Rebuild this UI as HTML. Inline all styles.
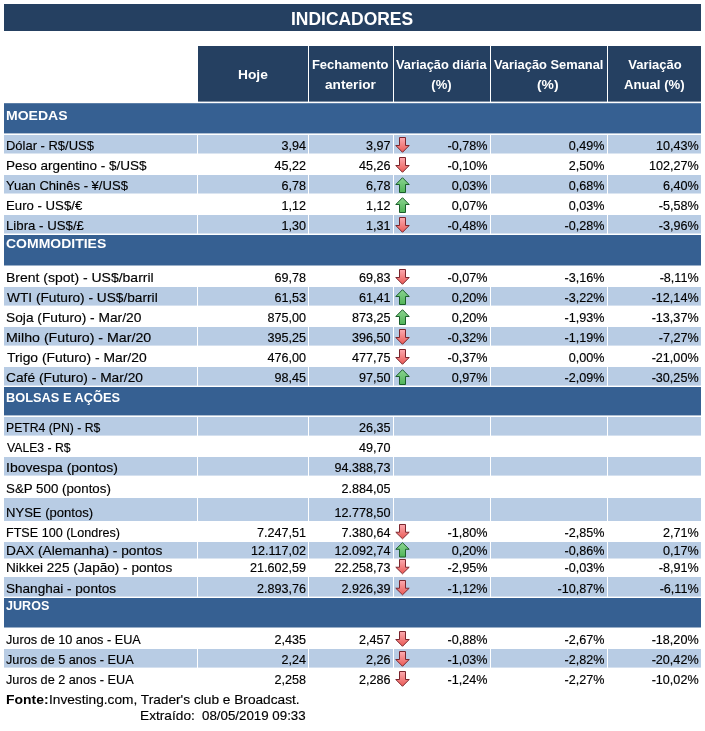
<!DOCTYPE html>
<html lang="pt-BR"><head><meta charset="utf-8"><title>Indicadores</title>
<style>
html,body{margin:0;padding:0;background:#fff}
body{width:705px;height:731px;position:relative;overflow:hidden;font-family:"Liberation Sans",sans-serif;color:#000}
.r{position:absolute}
.x{position:absolute;white-space:nowrap;line-height:1;transform-origin:0 0}
.t{font-size:12.9px;-webkit-text-stroke:0.15px #000} .n{font-size:12.6px;-webkit-text-stroke:0.15px #000} .b{font-size:12.9px;font-weight:bold}
.h{font-size:13px;font-weight:bold;color:#fff} .s{font-size:13px;font-weight:bold;color:#fff}
.title{font-size:18px;font-weight:bold;color:#fff}
.ar{position:absolute;overflow:visible}
</style></head><body>
<svg width="0" height="0" style="position:absolute"><defs>
<linearGradient id="gr" x1="0" y1="0" x2="0" y2="1"><stop offset="0" stop-color="#fbaab0"/><stop offset="1" stop-color="#ea5a55"/></linearGradient>
<linearGradient id="gg" x1="0" y1="0" x2="0" y2="1"><stop offset="0" stop-color="#8bd490"/><stop offset="1" stop-color="#50b458"/></linearGradient>
</defs></svg>
<div class="r" style="left:4px;top:4px;width:697px;height:27px;background:#254061"></div>
<div class="r" style="left:198px;top:46px;width:110px;height:55px;background:#254061"></div>
<div class="r" style="left:198px;top:101px;width:110px;height:1px;background:rgba(37,64,97,0.60)"></div>
<div class="r" style="left:309px;top:46px;width:84px;height:55px;background:#254061"></div>
<div class="r" style="left:309px;top:101px;width:84px;height:1px;background:rgba(37,64,97,0.60)"></div>
<div class="r" style="left:394px;top:46px;width:96px;height:55px;background:#254061"></div>
<div class="r" style="left:394px;top:101px;width:96px;height:1px;background:rgba(37,64,97,0.60)"></div>
<div class="r" style="left:491px;top:46px;width:116px;height:55px;background:#254061"></div>
<div class="r" style="left:491px;top:101px;width:116px;height:1px;background:rgba(37,64,97,0.60)"></div>
<div class="r" style="left:608px;top:46px;width:93px;height:55px;background:#254061"></div>
<div class="r" style="left:608px;top:101px;width:93px;height:1px;background:rgba(37,64,97,0.60)"></div>
<div class="r" style="left:4px;top:104px;width:697px;height:29px;background:#366092"></div>
<div class="r" style="left:4px;top:133px;width:697px;height:1px;background:rgba(54,96,146,0.40)"></div>
<div class="r" style="left:4px;top:103px;width:697px;height:1px;background:rgba(54,96,146,0.80)"></div>
<div class="r" style="left:4px;top:235px;width:697px;height:30px;background:#366092"></div>
<div class="r" style="left:4px;top:265px;width:697px;height:1px;background:rgba(54,96,146,0.50)"></div>
<div class="r" style="left:4px;top:387px;width:697px;height:28px;background:#366092"></div>
<div class="r" style="left:4px;top:415px;width:697px;height:1px;background:rgba(54,96,146,0.40)"></div>
<div class="r" style="left:4px;top:598px;width:697px;height:29px;background:#366092"></div>
<div class="r" style="left:4px;top:627px;width:697px;height:1px;background:rgba(54,96,146,0.50)"></div>
<div class="r" style="left:4px;top:135px;width:193px;height:18px;background:#b8cce4"></div>
<div class="r" style="left:4px;top:153px;width:193px;height:1px;background:rgba(184,204,228,0.50)"></div>
<div class="r" style="left:198px;top:135px;width:110px;height:18px;background:#b8cce4"></div>
<div class="r" style="left:198px;top:153px;width:110px;height:1px;background:rgba(184,204,228,0.50)"></div>
<div class="r" style="left:309px;top:135px;width:84px;height:18px;background:#b8cce4"></div>
<div class="r" style="left:309px;top:153px;width:84px;height:1px;background:rgba(184,204,228,0.50)"></div>
<div class="r" style="left:394px;top:135px;width:96px;height:18px;background:#b8cce4"></div>
<div class="r" style="left:394px;top:153px;width:96px;height:1px;background:rgba(184,204,228,0.50)"></div>
<div class="r" style="left:491px;top:135px;width:116px;height:18px;background:#b8cce4"></div>
<div class="r" style="left:491px;top:153px;width:116px;height:1px;background:rgba(184,204,228,0.50)"></div>
<div class="r" style="left:608px;top:135px;width:93px;height:18px;background:#b8cce4"></div>
<div class="r" style="left:608px;top:153px;width:93px;height:1px;background:rgba(184,204,228,0.50)"></div>
<div class="r" style="left:4px;top:175px;width:193px;height:18px;background:#b8cce4"></div>
<div class="r" style="left:4px;top:193px;width:193px;height:1px;background:rgba(184,204,228,0.50)"></div>
<div class="r" style="left:198px;top:175px;width:110px;height:18px;background:#b8cce4"></div>
<div class="r" style="left:198px;top:193px;width:110px;height:1px;background:rgba(184,204,228,0.50)"></div>
<div class="r" style="left:309px;top:175px;width:84px;height:18px;background:#b8cce4"></div>
<div class="r" style="left:309px;top:193px;width:84px;height:1px;background:rgba(184,204,228,0.50)"></div>
<div class="r" style="left:394px;top:175px;width:96px;height:18px;background:#b8cce4"></div>
<div class="r" style="left:394px;top:193px;width:96px;height:1px;background:rgba(184,204,228,0.50)"></div>
<div class="r" style="left:491px;top:175px;width:116px;height:18px;background:#b8cce4"></div>
<div class="r" style="left:491px;top:193px;width:116px;height:1px;background:rgba(184,204,228,0.50)"></div>
<div class="r" style="left:608px;top:175px;width:93px;height:18px;background:#b8cce4"></div>
<div class="r" style="left:608px;top:193px;width:93px;height:1px;background:rgba(184,204,228,0.50)"></div>
<div class="r" style="left:4px;top:215px;width:193px;height:18px;background:#b8cce4"></div>
<div class="r" style="left:4px;top:233px;width:193px;height:1px;background:rgba(184,204,228,0.50)"></div>
<div class="r" style="left:198px;top:215px;width:110px;height:18px;background:#b8cce4"></div>
<div class="r" style="left:198px;top:233px;width:110px;height:1px;background:rgba(184,204,228,0.50)"></div>
<div class="r" style="left:309px;top:215px;width:84px;height:18px;background:#b8cce4"></div>
<div class="r" style="left:309px;top:233px;width:84px;height:1px;background:rgba(184,204,228,0.50)"></div>
<div class="r" style="left:394px;top:215px;width:96px;height:18px;background:#b8cce4"></div>
<div class="r" style="left:394px;top:233px;width:96px;height:1px;background:rgba(184,204,228,0.50)"></div>
<div class="r" style="left:491px;top:215px;width:116px;height:18px;background:#b8cce4"></div>
<div class="r" style="left:491px;top:233px;width:116px;height:1px;background:rgba(184,204,228,0.50)"></div>
<div class="r" style="left:608px;top:215px;width:93px;height:18px;background:#b8cce4"></div>
<div class="r" style="left:608px;top:233px;width:93px;height:1px;background:rgba(184,204,228,0.50)"></div>
<div class="r" style="left:4px;top:287px;width:193px;height:18px;background:#b8cce4"></div>
<div class="r" style="left:4px;top:305px;width:193px;height:1px;background:rgba(184,204,228,0.60)"></div>
<div class="r" style="left:198px;top:287px;width:110px;height:18px;background:#b8cce4"></div>
<div class="r" style="left:198px;top:305px;width:110px;height:1px;background:rgba(184,204,228,0.60)"></div>
<div class="r" style="left:309px;top:287px;width:84px;height:18px;background:#b8cce4"></div>
<div class="r" style="left:309px;top:305px;width:84px;height:1px;background:rgba(184,204,228,0.60)"></div>
<div class="r" style="left:394px;top:287px;width:96px;height:18px;background:#b8cce4"></div>
<div class="r" style="left:394px;top:305px;width:96px;height:1px;background:rgba(184,204,228,0.60)"></div>
<div class="r" style="left:491px;top:287px;width:116px;height:18px;background:#b8cce4"></div>
<div class="r" style="left:491px;top:305px;width:116px;height:1px;background:rgba(184,204,228,0.60)"></div>
<div class="r" style="left:608px;top:287px;width:93px;height:18px;background:#b8cce4"></div>
<div class="r" style="left:608px;top:305px;width:93px;height:1px;background:rgba(184,204,228,0.60)"></div>
<div class="r" style="left:4px;top:327px;width:193px;height:18px;background:#b8cce4"></div>
<div class="r" style="left:4px;top:345px;width:193px;height:1px;background:rgba(184,204,228,0.60)"></div>
<div class="r" style="left:198px;top:327px;width:110px;height:18px;background:#b8cce4"></div>
<div class="r" style="left:198px;top:345px;width:110px;height:1px;background:rgba(184,204,228,0.60)"></div>
<div class="r" style="left:309px;top:327px;width:84px;height:18px;background:#b8cce4"></div>
<div class="r" style="left:309px;top:345px;width:84px;height:1px;background:rgba(184,204,228,0.60)"></div>
<div class="r" style="left:394px;top:327px;width:96px;height:18px;background:#b8cce4"></div>
<div class="r" style="left:394px;top:345px;width:96px;height:1px;background:rgba(184,204,228,0.60)"></div>
<div class="r" style="left:491px;top:327px;width:116px;height:18px;background:#b8cce4"></div>
<div class="r" style="left:491px;top:345px;width:116px;height:1px;background:rgba(184,204,228,0.60)"></div>
<div class="r" style="left:608px;top:327px;width:93px;height:18px;background:#b8cce4"></div>
<div class="r" style="left:608px;top:345px;width:93px;height:1px;background:rgba(184,204,228,0.60)"></div>
<div class="r" style="left:4px;top:367px;width:193px;height:18px;background:#b8cce4"></div>
<div class="r" style="left:4px;top:385px;width:193px;height:1px;background:rgba(184,204,228,0.60)"></div>
<div class="r" style="left:198px;top:367px;width:110px;height:18px;background:#b8cce4"></div>
<div class="r" style="left:198px;top:385px;width:110px;height:1px;background:rgba(184,204,228,0.60)"></div>
<div class="r" style="left:309px;top:367px;width:84px;height:18px;background:#b8cce4"></div>
<div class="r" style="left:309px;top:385px;width:84px;height:1px;background:rgba(184,204,228,0.60)"></div>
<div class="r" style="left:394px;top:367px;width:96px;height:18px;background:#b8cce4"></div>
<div class="r" style="left:394px;top:385px;width:96px;height:1px;background:rgba(184,204,228,0.60)"></div>
<div class="r" style="left:491px;top:367px;width:116px;height:18px;background:#b8cce4"></div>
<div class="r" style="left:491px;top:385px;width:116px;height:1px;background:rgba(184,204,228,0.60)"></div>
<div class="r" style="left:608px;top:367px;width:93px;height:18px;background:#b8cce4"></div>
<div class="r" style="left:608px;top:385px;width:93px;height:1px;background:rgba(184,204,228,0.60)"></div>
<div class="r" style="left:4px;top:417px;width:193px;height:18px;background:#b8cce4"></div>
<div class="r" style="left:4px;top:435px;width:193px;height:1px;background:rgba(184,204,228,0.60)"></div>
<div class="r" style="left:198px;top:417px;width:110px;height:18px;background:#b8cce4"></div>
<div class="r" style="left:198px;top:435px;width:110px;height:1px;background:rgba(184,204,228,0.60)"></div>
<div class="r" style="left:309px;top:417px;width:84px;height:18px;background:#b8cce4"></div>
<div class="r" style="left:309px;top:435px;width:84px;height:1px;background:rgba(184,204,228,0.60)"></div>
<div class="r" style="left:394px;top:417px;width:96px;height:18px;background:#b8cce4"></div>
<div class="r" style="left:394px;top:435px;width:96px;height:1px;background:rgba(184,204,228,0.60)"></div>
<div class="r" style="left:491px;top:417px;width:116px;height:18px;background:#b8cce4"></div>
<div class="r" style="left:491px;top:435px;width:116px;height:1px;background:rgba(184,204,228,0.60)"></div>
<div class="r" style="left:608px;top:417px;width:93px;height:18px;background:#b8cce4"></div>
<div class="r" style="left:608px;top:435px;width:93px;height:1px;background:rgba(184,204,228,0.60)"></div>
<div class="r" style="left:4px;top:457px;width:193px;height:18px;background:#b8cce4"></div>
<div class="r" style="left:4px;top:475px;width:193px;height:1px;background:rgba(184,204,228,0.60)"></div>
<div class="r" style="left:198px;top:457px;width:110px;height:18px;background:#b8cce4"></div>
<div class="r" style="left:198px;top:475px;width:110px;height:1px;background:rgba(184,204,228,0.60)"></div>
<div class="r" style="left:309px;top:457px;width:84px;height:18px;background:#b8cce4"></div>
<div class="r" style="left:309px;top:475px;width:84px;height:1px;background:rgba(184,204,228,0.60)"></div>
<div class="r" style="left:394px;top:457px;width:96px;height:18px;background:#b8cce4"></div>
<div class="r" style="left:394px;top:475px;width:96px;height:1px;background:rgba(184,204,228,0.60)"></div>
<div class="r" style="left:491px;top:457px;width:116px;height:18px;background:#b8cce4"></div>
<div class="r" style="left:491px;top:475px;width:116px;height:1px;background:rgba(184,204,228,0.60)"></div>
<div class="r" style="left:608px;top:457px;width:93px;height:18px;background:#b8cce4"></div>
<div class="r" style="left:608px;top:475px;width:93px;height:1px;background:rgba(184,204,228,0.60)"></div>
<div class="r" style="left:4px;top:498px;width:193px;height:23px;background:#b8cce4"></div>
<div class="r" style="left:198px;top:498px;width:110px;height:23px;background:#b8cce4"></div>
<div class="r" style="left:309px;top:498px;width:84px;height:23px;background:#b8cce4"></div>
<div class="r" style="left:394px;top:498px;width:96px;height:23px;background:#b8cce4"></div>
<div class="r" style="left:491px;top:498px;width:116px;height:23px;background:#b8cce4"></div>
<div class="r" style="left:608px;top:498px;width:93px;height:23px;background:#b8cce4"></div>
<div class="r" style="left:4px;top:542px;width:193px;height:16px;background:#b8cce4"></div>
<div class="r" style="left:4px;top:558px;width:193px;height:1px;background:rgba(184,204,228,0.50)"></div>
<div class="r" style="left:198px;top:542px;width:110px;height:16px;background:#b8cce4"></div>
<div class="r" style="left:198px;top:558px;width:110px;height:1px;background:rgba(184,204,228,0.50)"></div>
<div class="r" style="left:309px;top:542px;width:84px;height:16px;background:#b8cce4"></div>
<div class="r" style="left:309px;top:558px;width:84px;height:1px;background:rgba(184,204,228,0.50)"></div>
<div class="r" style="left:394px;top:542px;width:96px;height:16px;background:#b8cce4"></div>
<div class="r" style="left:394px;top:558px;width:96px;height:1px;background:rgba(184,204,228,0.50)"></div>
<div class="r" style="left:491px;top:542px;width:116px;height:16px;background:#b8cce4"></div>
<div class="r" style="left:491px;top:558px;width:116px;height:1px;background:rgba(184,204,228,0.50)"></div>
<div class="r" style="left:608px;top:542px;width:93px;height:16px;background:#b8cce4"></div>
<div class="r" style="left:608px;top:558px;width:93px;height:1px;background:rgba(184,204,228,0.50)"></div>
<div class="r" style="left:4px;top:577px;width:193px;height:19px;background:#b8cce4"></div>
<div class="r" style="left:4px;top:596px;width:193px;height:1px;background:rgba(184,204,228,0.60)"></div>
<div class="r" style="left:198px;top:577px;width:110px;height:19px;background:#b8cce4"></div>
<div class="r" style="left:198px;top:596px;width:110px;height:1px;background:rgba(184,204,228,0.60)"></div>
<div class="r" style="left:309px;top:577px;width:84px;height:19px;background:#b8cce4"></div>
<div class="r" style="left:309px;top:596px;width:84px;height:1px;background:rgba(184,204,228,0.60)"></div>
<div class="r" style="left:394px;top:577px;width:96px;height:19px;background:#b8cce4"></div>
<div class="r" style="left:394px;top:596px;width:96px;height:1px;background:rgba(184,204,228,0.60)"></div>
<div class="r" style="left:491px;top:577px;width:116px;height:19px;background:#b8cce4"></div>
<div class="r" style="left:491px;top:596px;width:116px;height:1px;background:rgba(184,204,228,0.60)"></div>
<div class="r" style="left:608px;top:577px;width:93px;height:19px;background:#b8cce4"></div>
<div class="r" style="left:608px;top:596px;width:93px;height:1px;background:rgba(184,204,228,0.60)"></div>
<div class="r" style="left:4px;top:649px;width:193px;height:18px;background:#b8cce4"></div>
<div class="r" style="left:4px;top:667px;width:193px;height:1px;background:rgba(184,204,228,0.60)"></div>
<div class="r" style="left:198px;top:649px;width:110px;height:18px;background:#b8cce4"></div>
<div class="r" style="left:198px;top:667px;width:110px;height:1px;background:rgba(184,204,228,0.60)"></div>
<div class="r" style="left:309px;top:649px;width:84px;height:18px;background:#b8cce4"></div>
<div class="r" style="left:309px;top:667px;width:84px;height:1px;background:rgba(184,204,228,0.60)"></div>
<div class="r" style="left:394px;top:649px;width:96px;height:18px;background:#b8cce4"></div>
<div class="r" style="left:394px;top:667px;width:96px;height:1px;background:rgba(184,204,228,0.60)"></div>
<div class="r" style="left:491px;top:649px;width:116px;height:18px;background:#b8cce4"></div>
<div class="r" style="left:491px;top:667px;width:116px;height:1px;background:rgba(184,204,228,0.60)"></div>
<div class="r" style="left:608px;top:649px;width:93px;height:18px;background:#b8cce4"></div>
<div class="r" style="left:608px;top:667px;width:93px;height:1px;background:rgba(184,204,228,0.60)"></div>
<div class="x title" style="left:291.11px;top:10px;transform:scaleX(0.9693)">INDICADORES</div>
<div class="x h" style="left:238.37px;top:68px;transform:scaleX(1.0594)">Hoje</div>
<div class="x h" style="left:311.93px;top:58px">Fechamento</div>
<div class="x h" style="left:325.48px;top:78px;transform:scaleX(1.0502)">anterior</div>
<div class="x h" style="left:396.21px;top:58px;transform:scaleX(0.9862)">Variação diária</div>
<div class="x h" style="left:431.32px;top:78px">(%)</div>
<div class="x h" style="left:494.11px;top:58px;transform:scaleX(0.9893)">Variação Semanal</div>
<div class="x h" style="left:537.48px;top:78px;transform:scaleX(1.0654)">(%)</div>
<div class="x h" style="left:628.21px;top:58px">Variação</div>
<div class="x h" style="left:623.97px;top:78px;transform:scaleX(1.0115)">Anual (%)</div>
<div class="x s" style="left:6.16px;top:109px;transform:scaleX(1.0790)">MOEDAS</div>
<div class="x s" style="left:6.28px;top:237px;transform:scaleX(1.0762)">COMMODITIES</div>
<div class="x s" style="left:6.04px;top:391px;transform:scaleX(0.9846)">BOLSAS E AÇÕES</div>
<div class="x s" style="left:6.39px;top:599px;transform:scaleX(0.9665)">JUROS</div>
<div class="x t" style="left:5.83px;top:140px;transform:scaleX(1.0054)">Dólar - R$/US$</div>
<div class="x n" style="left:281.48px;top:140px">3,94</div>
<div class="x n" style="left:366.08px;top:140px">3,97</div>
<div class="x n" style="left:447.49px;top:140px">-0,78%</div>
<div class="x n" style="left:568.68px;top:140px">0,49%</div>
<div class="x n" style="left:655.88px;top:140px">10,43%</div>
<div class="x t" style="left:5.78px;top:160px;transform:scaleX(1.0494)">Peso argentino - $/US$</div>
<div class="x n" style="left:274.48px;top:160px">45,22</div>
<div class="x n" style="left:359.08px;top:160px">45,26</div>
<div class="x n" style="left:447.49px;top:160px">-0,10%</div>
<div class="x n" style="left:568.68px;top:160px">2,50%</div>
<div class="x n" style="left:648.88px;top:160px">102,27%</div>
<div class="x t" style="left:6.40px;top:180px;transform:scaleX(1.0125)">Yuan Chinês - ¥/US$</div>
<div class="x n" style="left:281.48px;top:180px">6,78</div>
<div class="x n" style="left:366.08px;top:180px">6,78</div>
<div class="x n" style="left:451.68px;top:180px">0,03%</div>
<div class="x n" style="left:568.68px;top:180px">0,68%</div>
<div class="x n" style="left:662.88px;top:180px">6,40%</div>
<div class="x t" style="left:5.81px;top:200px;transform:scaleX(1.0234)">Euro - US$/€</div>
<div class="x n" style="left:281.48px;top:200px">1,12</div>
<div class="x n" style="left:366.08px;top:200px">1,12</div>
<div class="x n" style="left:451.68px;top:200px">0,07%</div>
<div class="x n" style="left:568.68px;top:200px">0,03%</div>
<div class="x n" style="left:658.69px;top:200px">-5,58%</div>
<div class="x t" style="left:5.81px;top:220px;transform:scaleX(1.0262)">Libra - US$/£</div>
<div class="x n" style="left:281.48px;top:220px">1,30</div>
<div class="x n" style="left:366.08px;top:220px">1,31</div>
<div class="x n" style="left:447.49px;top:220px">-0,48%</div>
<div class="x n" style="left:564.49px;top:220px">-0,28%</div>
<div class="x n" style="left:658.69px;top:220px">-3,96%</div>
<div class="x t" style="left:5.74px;top:272px;transform:scaleX(1.0849)">Brent (spot) - US$/barril</div>
<div class="x n" style="left:274.48px;top:272px">69,78</div>
<div class="x n" style="left:359.08px;top:272px">69,83</div>
<div class="x n" style="left:447.49px;top:272px">-0,07%</div>
<div class="x n" style="left:564.49px;top:272px">-3,16%</div>
<div class="x n" style="left:659.63px;top:272px">-8,11%</div>
<div class="x t" style="left:6.70px;top:292px;transform:scaleX(1.0626)">WTI (Futuro) - US$/barril</div>
<div class="x n" style="left:274.48px;top:292px">61,53</div>
<div class="x n" style="left:359.08px;top:292px">61,41</div>
<div class="x n" style="left:451.68px;top:292px">0,20%</div>
<div class="x n" style="left:564.49px;top:292px">-3,22%</div>
<div class="x n" style="left:651.68px;top:292px">-12,14%</div>
<div class="x t" style="left:6.05px;top:312px;transform:scaleX(1.0670)">Soja (Futuro) - Mar/20</div>
<div class="x n" style="left:267.47px;top:312px">875,00</div>
<div class="x n" style="left:352.07px;top:312px">873,25</div>
<div class="x n" style="left:451.68px;top:312px">0,20%</div>
<div class="x n" style="left:564.49px;top:312px">-1,93%</div>
<div class="x n" style="left:651.68px;top:312px">-13,37%</div>
<div class="x t" style="left:5.72px;top:332px;transform:scaleX(1.1019)">Milho (Futuro) - Mar/20</div>
<div class="x n" style="left:267.47px;top:332px">395,25</div>
<div class="x n" style="left:352.07px;top:332px">396,50</div>
<div class="x n" style="left:447.49px;top:332px">-0,32%</div>
<div class="x n" style="left:564.49px;top:332px">-1,19%</div>
<div class="x n" style="left:658.69px;top:332px">-7,27%</div>
<div class="x t" style="left:6.62px;top:352px;transform:scaleX(1.0750)">Trigo (Futuro) - Mar/20</div>
<div class="x n" style="left:267.47px;top:352px">476,00</div>
<div class="x n" style="left:352.07px;top:352px">477,75</div>
<div class="x n" style="left:447.49px;top:352px">-0,37%</div>
<div class="x n" style="left:568.68px;top:352px">0,00%</div>
<div class="x n" style="left:651.68px;top:352px">-21,00%</div>
<div class="x t" style="left:6.27px;top:372px;transform:scaleX(1.0685)">Café (Futuro) - Mar/20</div>
<div class="x n" style="left:274.48px;top:372px">98,45</div>
<div class="x n" style="left:359.08px;top:372px">97,50</div>
<div class="x n" style="left:451.68px;top:372px">0,97%</div>
<div class="x n" style="left:564.49px;top:372px">-2,09%</div>
<div class="x n" style="left:651.68px;top:372px">-30,25%</div>
<div class="x t" style="left:5.89px;top:422px;transform:scaleX(0.9467)">PETR4 (PN) - R$</div>
<div class="x n" style="left:359.08px;top:422px">26,35</div>
<div class="x t" style="left:6.68px;top:442px;transform:scaleX(0.9476)">VALE3 - R$</div>
<div class="x n" style="left:359.08px;top:442px">49,70</div>
<div class="x t" style="left:5.62px;top:462px;transform:scaleX(1.0853)">Ibovespa (pontos)</div>
<div class="x n" style="left:334.57px;top:462px">94.388,73</div>
<div class="x t" style="left:6.07px;top:483px;transform:scaleX(1.0326)">S&amp;P 500 (pontos)</div>
<div class="x n" style="left:341.57px;top:483px">2.884,05</div>
<div class="x t" style="left:5.82px;top:507px;transform:scaleX(1.0124)">NYSE (pontos)</div>
<div class="x n" style="left:334.57px;top:507px">12.778,50</div>
<div class="x t" style="left:5.86px;top:527px;transform:scaleX(0.9760)">FTSE 100 (Londres)</div>
<div class="x n" style="left:256.97px;top:527px">7.247,51</div>
<div class="x n" style="left:341.57px;top:527px">7.380,64</div>
<div class="x n" style="left:447.49px;top:527px">-1,80%</div>
<div class="x n" style="left:564.49px;top:527px">-2,85%</div>
<div class="x n" style="left:662.88px;top:527px">2,71%</div>
<div class="x t" style="left:5.76px;top:545px;transform:scaleX(1.0645)">DAX (Alemanha) - pontos</div>
<div class="x n" style="left:250.91px;top:545px">12.117,02</div>
<div class="x n" style="left:334.57px;top:545px">12.092,74</div>
<div class="x n" style="left:451.68px;top:545px">0,20%</div>
<div class="x n" style="left:564.49px;top:545px">-0,86%</div>
<div class="x n" style="left:662.88px;top:545px">0,17%</div>
<div class="x t" style="left:5.78px;top:562px;transform:scaleX(1.0545)">Nikkei 225 (Japão) - pontos</div>
<div class="x n" style="left:249.97px;top:562px">21.602,59</div>
<div class="x n" style="left:334.57px;top:562px">22.258,73</div>
<div class="x n" style="left:447.49px;top:562px">-2,95%</div>
<div class="x n" style="left:564.49px;top:562px">-0,03%</div>
<div class="x n" style="left:658.69px;top:562px">-8,91%</div>
<div class="x t" style="left:6.06px;top:583px;transform:scaleX(1.0516)">Shanghai - pontos</div>
<div class="x n" style="left:256.97px;top:583px">2.893,76</div>
<div class="x n" style="left:341.57px;top:583px">2.926,39</div>
<div class="x n" style="left:447.49px;top:583px">-1,12%</div>
<div class="x n" style="left:557.48px;top:583px">-10,87%</div>
<div class="x n" style="left:659.63px;top:583px">-6,11%</div>
<div class="x t" style="left:6.39px;top:634px;transform:scaleX(0.9848)">Juros de 10 anos - EUA</div>
<div class="x n" style="left:274.48px;top:634px">2,435</div>
<div class="x n" style="left:359.08px;top:634px">2,457</div>
<div class="x n" style="left:447.49px;top:634px">-0,88%</div>
<div class="x n" style="left:564.49px;top:634px">-2,67%</div>
<div class="x n" style="left:651.68px;top:634px">-18,20%</div>
<div class="x t" style="left:6.39px;top:654px;transform:scaleX(0.9847)">Juros de 5 anos - EUA</div>
<div class="x n" style="left:281.48px;top:654px">2,24</div>
<div class="x n" style="left:366.08px;top:654px">2,26</div>
<div class="x n" style="left:447.49px;top:654px">-1,03%</div>
<div class="x n" style="left:564.49px;top:654px">-2,82%</div>
<div class="x n" style="left:651.68px;top:654px">-20,42%</div>
<div class="x t" style="left:6.39px;top:674px;transform:scaleX(0.9847)">Juros de 2 anos - EUA</div>
<div class="x n" style="left:274.48px;top:674px">2,258</div>
<div class="x n" style="left:359.08px;top:674px">2,286</div>
<div class="x n" style="left:447.49px;top:674px">-1,24%</div>
<div class="x n" style="left:564.49px;top:674px">-2,27%</div>
<div class="x n" style="left:651.68px;top:674px">-10,02%</div>
<div class="x b" style="left:5.87px;top:694px;transform:scaleX(1.0810)">Fonte:</div>
<div class="x t" style="left:48.55px;top:694px;transform:scaleX(1.0619)">Investing.com, Trader's club e Broadcast.</div>
<div class="x t" style="left:140.37px;top:710px;transform:scaleX(1.0622)">Extraído:</div>
<div class="x n" style="left:202.33px;top:710px;transform:scaleX(1.0573)">08/05/2019 09:33</div>
<svg class="ar" style="left:395px;top:137px" width="15" height="16" viewBox="0 0 15 16" preserveAspectRatio="none"><path d="M4.5 0.5 H10.5 V8.5 H14.2 L7.5 15.3 L0.8 8.5 H4.5 Z" fill="url(#gr)" stroke="#7a242b" stroke-width="1"/></svg>
<svg class="ar" style="left:395px;top:157px" width="15" height="16" viewBox="0 0 15 16" preserveAspectRatio="none"><path d="M4.5 0.5 H10.5 V8.5 H14.2 L7.5 15.3 L0.8 8.5 H4.5 Z" fill="url(#gr)" stroke="#7a242b" stroke-width="1"/></svg>
<svg class="ar" style="left:395px;top:177px" width="15" height="16" viewBox="0 0 15 16" preserveAspectRatio="none"><path d="M7.5 0.7 L14.2 7.5 H10.5 V15.5 H4.5 V7.5 H0.8 Z" fill="url(#gg)" stroke="#1a5e2a" stroke-width="1"/></svg>
<svg class="ar" style="left:395px;top:197px" width="15" height="16" viewBox="0 0 15 16" preserveAspectRatio="none"><path d="M7.5 0.7 L14.2 7.5 H10.5 V15.5 H4.5 V7.5 H0.8 Z" fill="url(#gg)" stroke="#1a5e2a" stroke-width="1"/></svg>
<svg class="ar" style="left:395px;top:217px" width="15" height="16" viewBox="0 0 15 16" preserveAspectRatio="none"><path d="M4.5 0.5 H10.5 V8.5 H14.2 L7.5 15.3 L0.8 8.5 H4.5 Z" fill="url(#gr)" stroke="#7a242b" stroke-width="1"/></svg>
<svg class="ar" style="left:395px;top:269px" width="15" height="16" viewBox="0 0 15 16" preserveAspectRatio="none"><path d="M4.5 0.5 H10.5 V8.5 H14.2 L7.5 15.3 L0.8 8.5 H4.5 Z" fill="url(#gr)" stroke="#7a242b" stroke-width="1"/></svg>
<svg class="ar" style="left:395px;top:289px" width="15" height="16" viewBox="0 0 15 16" preserveAspectRatio="none"><path d="M7.5 0.7 L14.2 7.5 H10.5 V15.5 H4.5 V7.5 H0.8 Z" fill="url(#gg)" stroke="#1a5e2a" stroke-width="1"/></svg>
<svg class="ar" style="left:395px;top:309px" width="15" height="16" viewBox="0 0 15 16" preserveAspectRatio="none"><path d="M7.5 0.7 L14.2 7.5 H10.5 V15.5 H4.5 V7.5 H0.8 Z" fill="url(#gg)" stroke="#1a5e2a" stroke-width="1"/></svg>
<svg class="ar" style="left:395px;top:329px" width="15" height="16" viewBox="0 0 15 16" preserveAspectRatio="none"><path d="M4.5 0.5 H10.5 V8.5 H14.2 L7.5 15.3 L0.8 8.5 H4.5 Z" fill="url(#gr)" stroke="#7a242b" stroke-width="1"/></svg>
<svg class="ar" style="left:395px;top:349px" width="15" height="16" viewBox="0 0 15 16" preserveAspectRatio="none"><path d="M4.5 0.5 H10.5 V8.5 H14.2 L7.5 15.3 L0.8 8.5 H4.5 Z" fill="url(#gr)" stroke="#7a242b" stroke-width="1"/></svg>
<svg class="ar" style="left:395px;top:369px" width="15" height="16" viewBox="0 0 15 16" preserveAspectRatio="none"><path d="M7.5 0.7 L14.2 7.5 H10.5 V15.5 H4.5 V7.5 H0.8 Z" fill="url(#gg)" stroke="#1a5e2a" stroke-width="1"/></svg>
<svg class="ar" style="left:395px;top:523.8px" width="15" height="15.5" viewBox="0 0 15 16" preserveAspectRatio="none"><path d="M4.5 0.5 H10.5 V8.5 H14.2 L7.5 15.3 L0.8 8.5 H4.5 Z" fill="url(#gr)" stroke="#7a242b" stroke-width="1"/></svg>
<svg class="ar" style="left:395px;top:541.8px" width="15" height="15.5" viewBox="0 0 15 16" preserveAspectRatio="none"><path d="M7.5 0.7 L14.2 7.5 H10.5 V15.5 H4.5 V7.5 H0.8 Z" fill="url(#gg)" stroke="#1a5e2a" stroke-width="1"/></svg>
<svg class="ar" style="left:395px;top:558.8px" width="15" height="15.5" viewBox="0 0 15 16" preserveAspectRatio="none"><path d="M4.5 0.5 H10.5 V8.5 H14.2 L7.5 15.3 L0.8 8.5 H4.5 Z" fill="url(#gr)" stroke="#7a242b" stroke-width="1"/></svg>
<svg class="ar" style="left:395px;top:579.8px" width="15" height="15.5" viewBox="0 0 15 16" preserveAspectRatio="none"><path d="M4.5 0.5 H10.5 V8.5 H14.2 L7.5 15.3 L0.8 8.5 H4.5 Z" fill="url(#gr)" stroke="#7a242b" stroke-width="1"/></svg>
<svg class="ar" style="left:395px;top:631px" width="15" height="16" viewBox="0 0 15 16" preserveAspectRatio="none"><path d="M4.5 0.5 H10.5 V8.5 H14.2 L7.5 15.3 L0.8 8.5 H4.5 Z" fill="url(#gr)" stroke="#7a242b" stroke-width="1"/></svg>
<svg class="ar" style="left:395px;top:651px" width="15" height="16" viewBox="0 0 15 16" preserveAspectRatio="none"><path d="M4.5 0.5 H10.5 V8.5 H14.2 L7.5 15.3 L0.8 8.5 H4.5 Z" fill="url(#gr)" stroke="#7a242b" stroke-width="1"/></svg>
<svg class="ar" style="left:395px;top:671px" width="15" height="16" viewBox="0 0 15 16" preserveAspectRatio="none"><path d="M4.5 0.5 H10.5 V8.5 H14.2 L7.5 15.3 L0.8 8.5 H4.5 Z" fill="url(#gr)" stroke="#7a242b" stroke-width="1"/></svg>
</body></html>
